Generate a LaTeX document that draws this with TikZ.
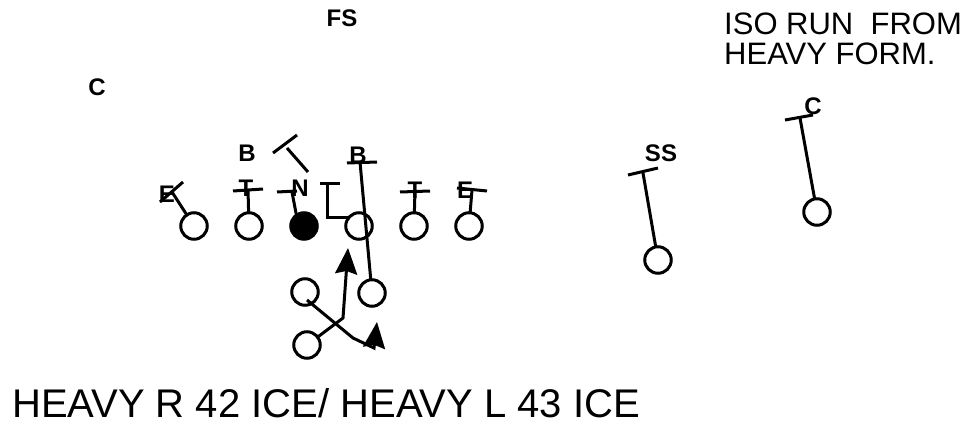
\documentclass[tikz,border=0pt]{standalone}
\usepackage{fontspec}
\setmainfont{Liberation Sans}
\usetikzlibrary{arrows.meta,positioning,calc}
\tikzset{
  every node/.style={text=black},
  player/.style={circle,draw,line width=3pt,minimum size=26.5pt,inner sep=0pt,outer sep=0pt},
  centerman/.style={player,fill=black},
  poslabel/.style={font=\fontsize{24}{24}\selectfont\bfseries,inner sep=0pt},
  block/.style={line width=3pt},
  run/.style={line width=3pt,-{Stealth[length=26pt,width=22pt,inset=3pt]}},
  title/.style={font=\fontsize{31}{31}\selectfont,inner sep=0pt,anchor=base west},
  playname/.style={font=\fontsize{40}{40}\selectfont,inner sep=0pt,anchor=base west},
}

\begin{document}
\begin{tikzpicture}[x=1pt,y=-1pt]
\useasboundingbox (0,0) rectangle (972,425);

\node[player] (le) at (194,226) {};
\node[player,right=28.5pt of le] (lt) {};
\node[centerman,right=28.5pt of lt] (ctr) {};
\node[player,right=28.5pt of ctr] (rg) {};
\node[player,right=28.5pt of rg] (rt) {};
\node[player,right=28.5pt of rt] (re) {};
\node[player] (qb) at (305,292) {};
\node[player] (wing) at (372,293) {};
\node[player] (tb) at (307,345) {};
\node[player] (ss) at (658,260) {};
\node[player] (cbr) at (817,212) {};

\node[poslabel] (fsLabel) at (342,18) {FS};
\node[poslabel] (cLabel) at (97,87) {C};
\node[poslabel] (bLabel) at (247,153) {B};
\node[poslabel] (b2Label) at (358,155) {B};
\node[poslabel] (eLabel) at (167,194) {E};
\node[poslabel] (tLabel) at (246,188) {T};
\node[poslabel] (nLabel) at (300,188) {N};
\node[poslabel] (t2Label) at (415,190) {T};
\node[poslabel] (e2Label) at (465,190) {E};
\node[poslabel] (ssLabel) at (661,153) {SS};
\node[poslabel] (c2Label) at (813,106) {C};

\coordinate (leb) at (172,192);
\coordinate (ltb) at (248,190);
\coordinate (ctrb) at (292,192);
\coordinate (nbs) at (308,172);
\coordinate (nbe) at (287,148);
\coordinate (rgb) at (327,183);
\coordinate (wgb) at (360,162);
\coordinate (rtb) at (415,190);
\coordinate (reb) at (472,190);
\coordinate (ssb) at (643,173);
\coordinate (cbb) at (800,118);

\draw[block] (le) -- (leb);
\draw[block] ($(leb)+(-12,10)$) -- ($(leb)+(11,-10)$);
\draw[block] (lt) -- (ltb);
\draw[block] ($(ltb)+(-15,1)$) -- ($(ltb)+(15,-1)$);
\draw[block] (ctr.125) -- (ctrb);
\draw[block] ($(ctrb)+(-15,0)$) -- ($(ctrb)+(5,-1)$);
\draw[block] (nbs) -- (nbe);
\draw[block] ($(nbe)+(-14,5)$) -- ($(nbe)+(10,-13)$);
\draw[block] (rg.140) -| (rgb);
\draw[block] ($(rgb)+(-7,0)$) -- ($(rgb)+(13,0)$);
\draw[block] (wing) -- (wgb);
\draw[block] ($(wgb)+(-13,1)$) -- ($(wgb)+(17,0)$);
\draw[block] (rt) -- (rtb);
\draw[block] ($(rtb)+(-15,2)$) -- ($(rtb)+(15,1)$);
\draw[block] (re) -- (reb);
\draw[block] ($(reb)+(-15,-2)$) -- ($(reb)+(15,1)$);
\draw[block] (ss) -- (ssb);
\draw[block] ($(ssb)+(-15,2)$) -- ($(ssb)+(15,-5)$);
\draw[block] (cbr) -- (cbb);
\draw[block] ($(cbb)+(-15,2)$) -- ($(cbb)+(13,-3)$);

\coordinate (qbh) at (307,300);
\coordinate (qbx) at (353,338);
\coordinate (qbk) at (374,348);
\coordinate (qbt) at (377,322);
\coordinate (tbx) at (343,318);
\coordinate (tbt) at (348,248);
\draw[run] (qbh) -- (qbx) -- (qbk) -- (qbt);
\draw[run] (tb) -- (tbx) -- (tbt);

\node[title] (isoLine) at (724,35) {ISO RUN\ \ FROM};
\node[title] (formLine) at (724,65) {HEAVY FORM.};
\node[playname] (playLine) at (12,417) {HEAVY R 42 ICE/ HEAVY L 43 ICE};

\end{tikzpicture}
\end{document}
